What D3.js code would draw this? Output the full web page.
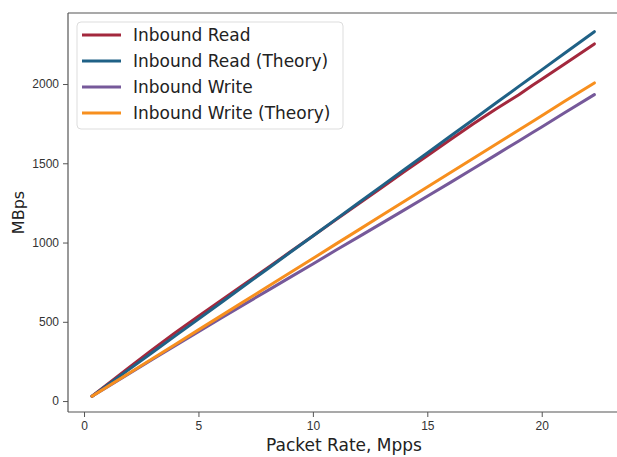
<!DOCTYPE html>
<html>
<head>
<meta charset="utf-8">
<script src="https://cdn.jsdelivr.net/npm/d3@7"></script>
<style>
  body { margin: 0; background: #fff; }
  svg { display: block; font-family: "DejaVu Sans", sans-serif; }
  .axis path, .axis line { stroke: #555; }
  .axis text { fill: #333; font-size: 12px; }
</style>
</head>
<body>
<div id="chart"></div>
<script>
// packet rate (Mpps)
var rate = [0.35, 1, 2, 3, 4, 5, 6, 7, 8, 9, 10, 11, 12, 13, 14, 15, 16, 17, 18, 19, 19.6, 20, 21, 22.3];

// MBps per series
var readMeasured  = [30, 103, 215, 326, 433, 535, 636, 737, 838, 940, 1041, 1143, 1245, 1346, 1448, 1548, 1648, 1748, 1843, 1932, 1992, 2030, 2127, 2253];
var readTheory    = [30, 98, 203, 308, 413, 517, 622, 727, 832, 937, 1041, 1146, 1251, 1356, 1461, 1565, 1670, 1775, 1880, 1985, 2047, 2089, 2194, 2330];
var writeMeasured = [30, 88, 176, 264, 351, 438, 524, 610, 695, 780, 865, 951, 1036, 1121, 1206, 1292, 1378, 1465, 1553, 1641, 1694, 1729, 1819, 1933];
var writeTheory   = [30, 89, 179, 269, 359, 449, 539, 629, 719, 809, 899, 990, 1080, 1170, 1260, 1350, 1440, 1530, 1620, 1710, 1764, 1800, 1891, 2007];

var seriesNames = ["Inbound Read", "Inbound Read (Theory)", "Inbound Write", "Inbound Write (Theory)"];
var seriesColors = ["#a3283d", "#1f6186", "#76599a", "#f78f1e"];
var seriesValues = [readMeasured, readTheory, writeMeasured, writeTheory];

var xTicks = [0, 5, 10, 15, 20];
var yTicks = [0, 500, 1000, 1500, 2000];

var W = 617, H = 457;
var margin = {left: 68, top: 13, right: -3, bottom: 45};
var width = W - margin.left - margin.right;
var height = H - margin.top - margin.bottom;

var svg = d3.select("#chart").append("svg")
    .attr("width", W)
    .attr("height", H);

var g = svg.append("g").attr("transform", "translate(" + margin.left + "," + margin.top + ")");

var x = d3.scaleLinear().domain([-0.70, 23.42]).range([0, width]);
var y = d3.scaleLinear().domain([-69, 2448]).range([height, 0]);

// axes
g.append("g")
    .attr("class", "axis x")
    .attr("transform", "translate(0," + height + ")")
    .call(d3.axisBottom(x).tickValues(xTicks).tickFormat(d3.format("d")).tickSize(5).tickPadding(4).tickSizeOuter(0));

g.append("g")
    .attr("class", "axis y")
    .call(d3.axisLeft(y).tickValues(yTicks).tickFormat(d3.format("d")).tickSize(5).tickPadding(4).tickSizeOuter(0));

g.selectAll(".axis .domain").remove();

// spines
g.append("line").attr("x1", 0).attr("x2", width).attr("y1", 0).attr("y2", 0).attr("stroke", "#555").attr("stroke-width", 1.2);
g.append("line").attr("x1", 0).attr("x2", width).attr("y1", height).attr("y2", height).attr("stroke", "#555").attr("stroke-width", 1.2);
g.append("line").attr("x1", 0).attr("x2", 0).attr("y1", 0).attr("y2", height).attr("stroke", "#555").attr("stroke-width", 1.2);

// lines
var line = d3.line()
    .x(function(d, i) { return x(rate[i]); })
    .y(function(d) { return y(d); });

seriesValues.forEach(function(vals, i) {
  g.append("path")
    .attr("d", line(vals))
    .attr("fill", "none")
    .attr("stroke", seriesColors[i])
    .attr("stroke-width", 3)
    .attr("stroke-linecap", "round")
    .attr("stroke-linejoin", "round");
});

// legend
var legend = g.append("g").attr("transform", "translate(9,9)");
legend.append("rect")
    .attr("width", 266).attr("height", 107)
    .attr("rx", 4)
    .attr("fill", "#fff").attr("fill-opacity", 0.8)
    .attr("stroke", "#ddd");

seriesNames.forEach(function(name, i) {
  var ly = 13 + i * 26;
  legend.append("line")
    .attr("x1", 5).attr("x2", 44)
    .attr("y1", ly).attr("y2", ly)
    .attr("stroke", seriesColors[i]).attr("stroke-width", 3);
  legend.append("text")
    .attr("x", 56).attr("y", ly)
    .attr("dy", "0.35em")
    .style("font-size", "17px")
    .style("fill", "#222")
    .text(name);
});

// axis labels
svg.append("text")
    .attr("x", margin.left + (620 - margin.left) / 2)
    .attr("y", 451)
    .style("text-anchor", "middle")
    .style("font-size", "17px")
    .style("fill", "#222")
    .text("Packet Rate, Mpps");

svg.append("text")
    .attr("transform", "rotate(-90)")
    .attr("x", -(margin.top + height / 2))
    .attr("y", 24)
    .style("text-anchor", "middle")
    .style("font-size", "16px")
    .style("fill", "#222")
    .text("MBps");
</script>
</body>
</html>
